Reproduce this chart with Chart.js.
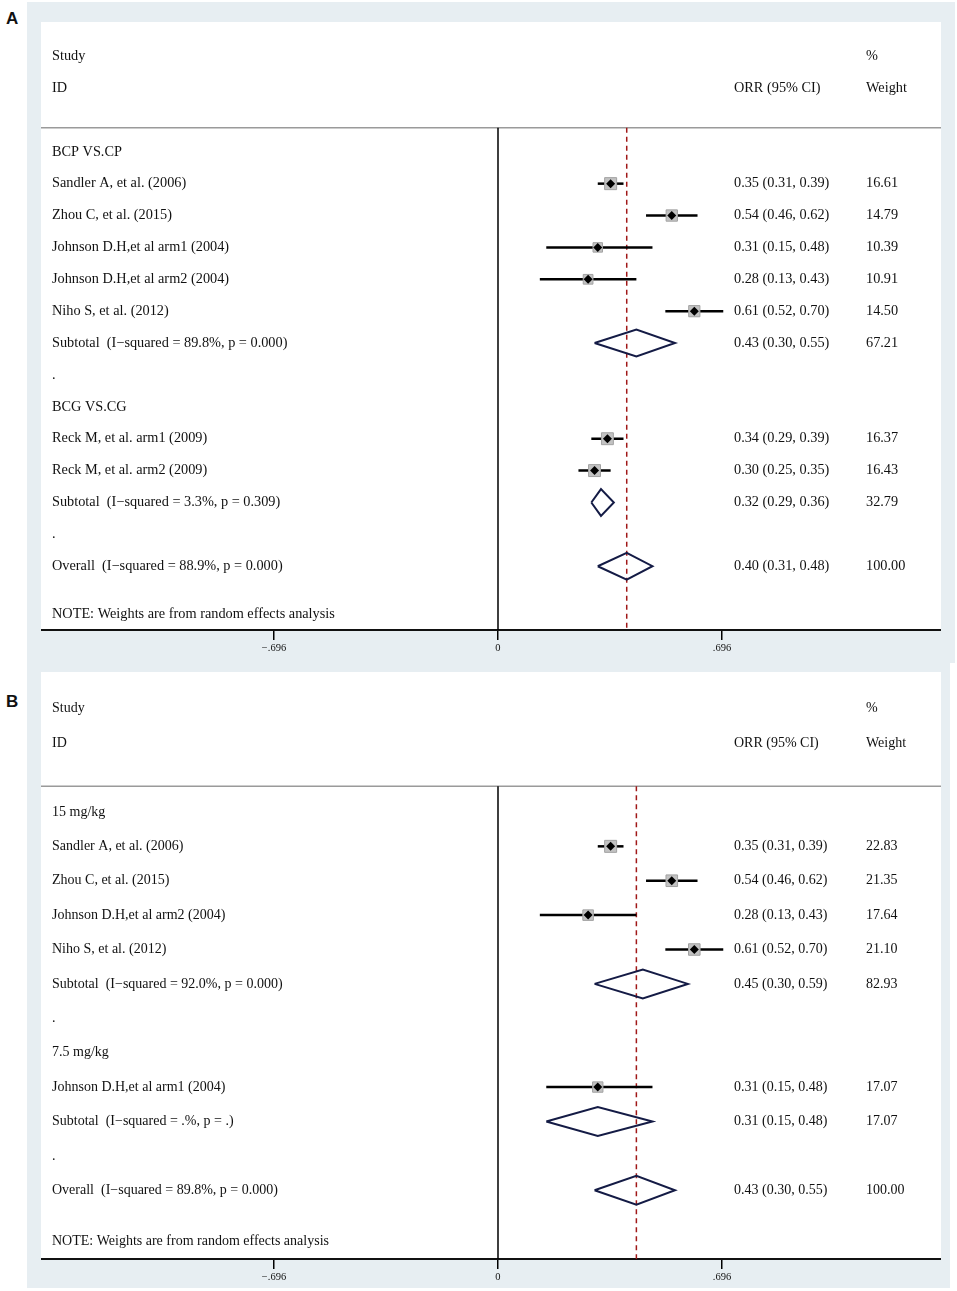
<!DOCTYPE html>
<html>
<head>
<meta charset="utf-8">
<script src="https://cdn.jsdelivr.net/npm/chart.js@4.4.1/dist/chart.umd.min.js"></script>
<style>
    html, body { margin: 0; padding: 0; background: #fff; }
    body { position: relative; width: 957px; height: 1291px; overflow: hidden; }
    .bg  { position: absolute; background: #e7eef2; }
    .box { position: absolute; }
    .tag { position: absolute; font: bold 17px "Liberation Sans", Arial, sans-serif; color: #111; }
</style>
</head>
<body>
<div class="bg" style="left:27px;top:2px;width:928px;height:661px"></div>
<div class="bg" style="left:27px;top:663px;width:923px;height:625px"></div>
<div class="tag" style="left:6px;top:9px">A</div>
<div class="tag" style="left:6px;top:692px">B</div>
<div class="box" style="left:41px;top:22px;width:900px;height:640px"><canvas id="forestA"></canvas></div>
<div class="box" style="left:41px;top:672px;width:900px;height:619px"><canvas id="forestB"></canvas></div>

<script>
// =========================================================
// DATA — panel A (by regimen)
// =========================================================
const groupsA    = ['BCP VS.CP', 'BCG VS.CG'];
const studiesA   = ['Sandler A, et al. (2006)', 'Zhou C, et al. (2015)', 'Johnson D.H,et al arm1 (2004)',
                    'Johnson D.H,et al arm2 (2004)', 'Niho S, et al. (2012)',
                    'Reck M, et al. arm1 (2009)', 'Reck M, et al. arm2 (2009)'];
const studyGrpA  = [0, 0, 0, 0, 0, 1, 1];
const orrA       = [0.35, 0.54, 0.31, 0.28, 0.61, 0.34, 0.30];
const loA        = [0.31, 0.46, 0.15, 0.13, 0.52, 0.29, 0.25];
const hiA        = [0.39, 0.62, 0.48, 0.43, 0.70, 0.39, 0.35];
const weightA    = [16.61, 14.79, 10.39, 10.91, 14.50, 16.37, 16.43];
const subLabelsA = ['Subtotal  (I\u2212squared = 89.8%, p = 0.000)', 'Subtotal  (I\u2212squared = 3.3%, p = 0.309)'];
const subOrrA    = [0.43, 0.32];
const subLoA     = [0.30, 0.29];
const subHiA     = [0.55, 0.36];
const subWeightA = [67.21, 32.79];
const overallLabelA = 'Overall  (I\u2212squared = 88.9%, p = 0.000)';
const overallA   = [0.40, 0.31, 0.48];   // ORR, lower, upper
const overallWtA = 100.00;

// =========================================================
// DATA — panel B (by dose)
// =========================================================
const groupsB    = ['15 mg/kg', '7.5 mg/kg'];
const studiesB   = ['Sandler A, et al. (2006)', 'Zhou C, et al. (2015)', 'Johnson D.H,et al arm2 (2004)',
                    'Niho S, et al. (2012)', 'Johnson D.H,et al arm1 (2004)'];
const studyGrpB  = [0, 0, 0, 0, 1];
const orrB       = [0.35, 0.54, 0.28, 0.61, 0.31];
const loB        = [0.31, 0.46, 0.13, 0.52, 0.15];
const hiB        = [0.39, 0.62, 0.43, 0.70, 0.48];
const weightB    = [22.83, 21.35, 17.64, 21.10, 17.07];
const subLabelsB = ['Subtotal  (I\u2212squared = 92.0%, p = 0.000)', 'Subtotal  (I\u2212squared = .%, p = .)'];
const subOrrB    = [0.45, 0.31];
const subLoB     = [0.30, 0.15];
const subHiB     = [0.59, 0.48];
const subWeightB = [82.93, 17.07];
const overallLabelB = 'Overall  (I\u2212squared = 89.8%, p = 0.000)';
const overallB   = [0.43, 0.30, 0.55];
const overallWtB = 100.00;

// axis ticks
const ticksX     = [-0.696, 0, 0.696];
const tickLabels = ['\u2212.696', '0', '.696'];

const NOTE = 'NOTE: Weights are from random effects analysis';

// =========================================================
// LAYOUT / STYLE
// =========================================================
const X_MIN = -1.4201, X_MAX = 1.3766;   // white box edges in ORR units
const Y_MIN = -0.07;
const SEP_ROW = 3.25;
const DIAMOND_H = 0.42;
const MAX_SIDE = 12;                      // px, biggest study box
const COL_LABEL = 11, COL_ORR = 693, COL_WT = 825;

function buildRows(p) {
    const rows = [];
    let r = 4;
    p.groups.forEach((g, gi) => {
        rows.push({ r: r++, kind: 'group', label: g });
        p.studyGrp.forEach((sg, i) => {
            if (sg !== gi) return;
            rows.push({ r: r++, kind: 'study', label: p.studies[i],
                        est: p.orr[i], lo: p.lo[i], hi: p.hi[i], wt: p.wt[i] });
        });
        rows.push({ r: r++, kind: 'pooled', label: p.subLabels[gi],
                    est: p.subOrr[gi], lo: p.subLo[gi], hi: p.subHi[gi], wt: p.subWt[gi] });
        rows.push({ r: r++, kind: 'dot', label: '.' });
    });
    rows.push({ r: r, kind: 'pooled', label: p.overallLabel,
                est: p.overall[0], lo: p.overall[1], hi: p.overall[2], wt: p.overallWt });
    rows.push({ r: r + 1.5, kind: 'note', label: NOTE });
    return { rows, maxRow: r + 2, overallEst: p.overall[0] };
}

const forestText = {
    id: 'forestText',
    beforeDraw(chart) {
        const { ctx, chartArea: a } = chart;
        ctx.save();
        ctx.fillStyle = '#fff';
        ctx.fillRect(a.left, a.top, a.right - a.left, a.bottom - a.top);
        ctx.restore();
    },
    beforeDatasetsDraw(chart, args, opts) {
        const { ctx, chartArea: a, scales: { y } } = chart;
        const fs = opts.fontSize;
        ctx.save();
        ctx.font = fs + 'px "Liberation Serif", "Times New Roman", serif';
        ctx.fillStyle = '#111';
        ctx.textBaseline = 'middle';
        ctx.textAlign = 'left';
        const put = (t, col, row) => ctx.fillText(t, a.left + col, y.getPixelForValue(row));

        put('Study', COL_LABEL, 1);
        put('%', COL_WT, 1);
        put('ID', COL_LABEL, 2);
        put('ORR (95% CI)', COL_ORR, 2);
        put('Weight', COL_WT, 2);

        opts.rows.forEach(row => {
            put(row.label, COL_LABEL, row.r);
            if (row.kind === 'study' || row.kind === 'pooled') {
                put(row.est.toFixed(2) + ' (' + row.lo.toFixed(2) + ', ' + row.hi.toFixed(2) + ')', COL_ORR, row.r);
                put(row.wt.toFixed(2), COL_WT, row.r);
            }
        });

        // header separator
        const sy = y.getPixelForValue(SEP_ROW);
        ctx.strokeStyle = '#9a9a9a';
        ctx.lineWidth = 1.5;
        ctx.beginPath();
        ctx.moveTo(a.left, sy);
        ctx.lineTo(a.right, sy);
        ctx.stroke();
        ctx.restore();
    }
};

function makeForest(canvasId, panel, fontSize) {
    const { rows, maxRow, overallEst } = buildRows(panel);
    const studies = rows.filter(r => r.kind === 'study');
    const pooled  = rows.filter(r => r.kind === 'pooled');
    const maxWt   = Math.max(...studies.map(s => s.wt));

    const datasets = [];

    // reference lines
    datasets.push({
        data: [{ x: 0, y: SEP_ROW }, { x: 0, y: maxRow }],
        showLine: true, borderColor: '#000', borderWidth: 1.5, pointRadius: 0, order: 7,
    });
    datasets.push({
        data: [{ x: overallEst, y: SEP_ROW }, { x: overallEst, y: maxRow }],
        showLine: true, borderColor: '#a01818', borderWidth: 1.5, borderDash: [5, 4],
        pointRadius: 0, order: 6,
    });

    // confidence intervals
    studies.forEach(s => {
        datasets.push({
            data: [{ x: s.lo, y: s.r }, { x: s.hi, y: s.r }],
            showLine: true, borderColor: '#000', borderWidth: 2.5, pointRadius: 0, order: 5,
        });
    });

    // weight boxes
    datasets.push({
        data: studies.map(s => ({ x: s.est, y: s.r })),
        pointStyle: 'rect',
        pointRadius: ctx => MAX_SIDE * Math.sqrt(studies[ctx.dataIndex].wt / maxWt) / Math.SQRT2,
        backgroundColor: '#c2c2c2', borderColor: '#a2a2a2', borderWidth: 1, order: 3,
    });

    // point estimates
    datasets.push({
        data: studies.map(s => ({ x: s.est, y: s.r })),
        pointStyle: 'rectRot', pointRadius: 4.5,
        backgroundColor: '#000', borderColor: '#000', borderWidth: 0, order: 1,
    });

    // pooled diamonds
    pooled.forEach(p => {
        datasets.push({
            data: [
                { x: p.lo,  y: p.r },
                { x: p.est, y: p.r - DIAMOND_H },
                { x: p.hi,  y: p.r },
                { x: p.est, y: p.r + DIAMOND_H },
                { x: p.lo,  y: p.r },
            ],
            showLine: true, borderColor: '#141b45', borderWidth: 2, borderJoinStyle: 'miter',
            pointRadius: 0, fill: false, order: 2,
        });
    });

    return new Chart(document.getElementById(canvasId), {
        type: 'scatter',
        data: { datasets },
        options: {
            responsive: true,
            maintainAspectRatio: false,
            animation: false,
            layout: { padding: 0, autoPadding: false },
            events: [],
            plugins: {
                legend: { display: false },
                tooltip: { enabled: false },
                forestText: { rows, fontSize },
            },
            scales: {
                x: {
                    type: 'linear', min: X_MIN, max: X_MAX,
                    afterBuildTicks: s => { s.ticks = ticksX.map(v => ({ value: v })); },
                    afterFit: s => { s.height = 32; },
                    grid: { drawOnChartArea: false, drawTicks: true, tickLength: 10, color: '#000', lineWidth: 1.5 },
                    border: { display: true, color: '#111', width: 2 },
                    ticks: {
                        padding: 2, color: '#111', autoSkip: false, maxRotation: 0,
                        font: { family: 'Liberation Serif', size: 10.5 },
                        callback: (v, i) => tickLabels[i],
                    },
                },
                y: { type: 'linear', display: false, reverse: true, min: Y_MIN, max: maxRow },
            },
        },
        plugins: [forestText],
    });
}

makeForest('forestA', {
    groups: groupsA, studies: studiesA, studyGrp: studyGrpA,
    orr: orrA, lo: loA, hi: hiA, wt: weightA,
    subLabels: subLabelsA, subOrr: subOrrA, subLo: subLoA, subHi: subHiA, subWt: subWeightA,
    overallLabel: overallLabelA, overall: overallA, overallWt: overallWtA,
}, 14.3);

makeForest('forestB', {
    groups: groupsB, studies: studiesB, studyGrp: studyGrpB,
    orr: orrB, lo: loB, hi: hiB, wt: weightB,
    subLabels: subLabelsB, subOrr: subOrrB, subLo: subLoB, subHi: subHiB, subWt: subWeightB,
    overallLabel: overallLabelB, overall: overallB, overallWt: overallWtB,
}, 14);
</script>
</body>
</html>
